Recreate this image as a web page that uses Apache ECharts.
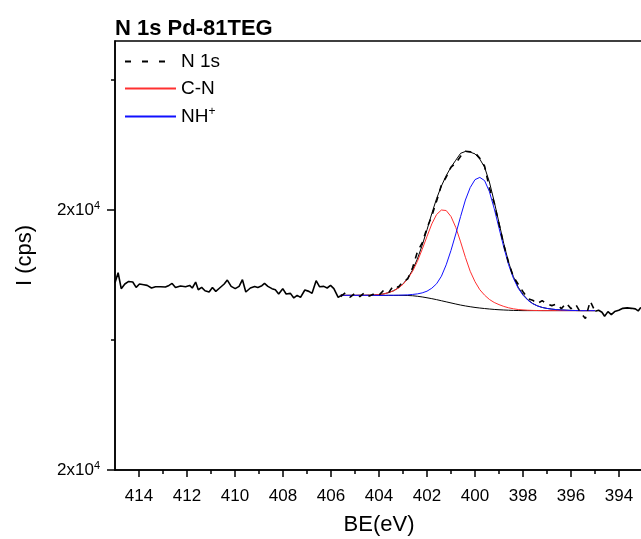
<!DOCTYPE html>
<html>
<head>
<meta charset="utf-8">
<title>N 1s Pd-81TEG</title>
<script src="https://cdn.jsdelivr.net/npm/echarts@6/dist/echarts.min.js"></script>
<style>
  html, body { margin: 0; padding: 0; background: #fff; }
  #chart { width: 641px; height: 539px; }
</style>
</head>
<body>
<div id="chart"></div>
<script>
// measured spectrum outside the fit window (drawn solid)
const beRawLeft = [415.00, 414.87, 414.74, 414.59, 414.43, 414.26, 414.12, 413.98, 413.80, 413.66,
  413.48, 413.31, 413.10, 412.90, 412.75, 412.62, 412.48, 412.27, 412.06, 411.89,
  411.78, 411.64, 411.53, 411.39, 411.25, 411.08, 410.94, 410.80, 410.64, 410.45,
  410.32, 410.16, 409.99, 409.83, 409.69, 409.55, 409.36, 409.18, 409.05, 408.88,
  408.77, 408.63, 408.46, 408.32, 408.18, 408.01, 407.87, 407.69, 407.55, 407.41,
  407.27, 407.09, 406.92, 406.79, 406.62, 406.48, 406.30, 406.16, 406.02, 405.88,
  405.70, 405.53];
const iRawLeft = [18602, 18793, 18487, 18577, 18626, 18615, 18511, 18577, 18563, 18550,
  18500, 18525, 18525, 18519, 18550, 18588, 18511, 18538, 18525, 18550,
  18500, 18615, 18467, 18511, 18448, 18423, 18511, 18435, 18500, 18577,
  18653, 18531, 18487, 18531, 18659, 18423, 18500, 18531, 18511, 18544,
  18588, 18531, 18487, 18467, 18385, 18487, 18385, 18397, 18309, 18358,
  18320, 18462, 18435, 18397, 18640, 18525, 18531, 18500, 18550, 18487,
  18320, 18372];
const beRawRight = [394.99, 394.85, 394.71, 394.60, 394.46, 394.32, 394.18, 394.01, 393.84, 393.66,
  393.48, 393.32, 393.20, 393.11, 393.00];
const iRawRight = [18052, 18071, 18033, 17956, 18046, 17989, 18046, 18071, 18109, 18117,
  18109, 18098, 18059, 18117, 18128];

// fit window
const beFit = [405.6, 405.4, 405.2, 405.0, 404.8, 404.6, 404.4, 404.2, 404.0, 403.8,
  403.6, 403.4, 403.2, 403.0, 402.8, 402.6, 402.4, 402.2, 402.0, 401.8,
  401.6, 401.4, 401.2, 401.0, 400.8, 400.6, 400.4, 400.2, 400.0, 399.8,
  399.6, 399.4, 399.2, 399.0, 398.8, 398.6, 398.4, 398.2, 398.0, 397.8,
  397.6, 397.4, 397.2, 397.0, 396.8, 396.6, 396.4, 396.2, 396.0, 395.8,
  395.6, 395.4, 395.2, 395.0];
const iN1s = [18333, 18410, 18324, 18400, 18333, 18410, 18343, 18391, 18362, 18458,
  18410, 18544, 18515, 18621, 18678, 18889, 19195, 19368, 19655, 19885,
  20172, 20479, 20632, 20824, 20900, 21034, 21130, 21121, 21102, 20996,
  20843, 20421, 20134, 19732, 19329, 18985, 18716, 18573, 18429, 18295,
  18266, 18199, 18257, 18190, 18161, 18190, 18103, 18209, 18103, 18180,
  18027, 17912, 18247, 18056];
const iBackground = [18358, 18358, 18358, 18358, 18358, 18358, 18358, 18358, 18358, 18358,
  18358, 18358, 18358, 18358, 18356, 18351, 18341, 18328, 18312, 18295,
  18276, 18255, 18234, 18213, 18192, 18172, 18155, 18140, 18126, 18115,
  18105, 18096, 18088, 18082, 18077, 18073, 18069, 18067, 18065, 18065,
  18065, 18065, 18065, 18065, 18065, 18065, 18065, 18065, 18065, 18065,
  18065, 18065, 18065, 18065];
const iCN = [18358, 18358, 18358, 18358, 18360, 18360, 18362, 18366, 18374, 18387,
  18410, 18444, 18496, 18571, 18678, 18822, 19013, 19243, 19492, 19732,
  19914, 20000, 19990, 19875, 19665, 19387, 19090, 18822, 18621, 18467,
  18362, 18280, 18222, 18180, 18146, 18119, 18100, 18086, 18079, 18073,
  18069, 18067, 18065, 18065, 18065, 18065, 18065, 18065, 18065, 18065,
  18065, 18065, 18065, 18065];
const iNH = [18358, 18358, 18358, 18358, 18358, 18358, 18358, 18358, 18358, 18358,
  18360, 18360, 18362, 18364, 18368, 18376, 18387, 18406, 18439, 18496,
  18582, 18726, 18946, 19224, 19540, 19875, 20192, 20431, 20584, 20627,
  20565, 20354, 20029, 19655, 19282, 18946, 18688, 18496, 18362, 18266,
  18199, 18155, 18126, 18107, 18094, 18084, 18077, 18073, 18069, 18067,
  18065, 18065, 18065, 18065];
const iEnvelope = [18358, 18358, 18358, 18358, 18360, 18360, 18362, 18366, 18374, 18387,
  18412, 18446, 18500, 18577, 18690, 18847, 19059, 19322, 19619, 19933,
  20220, 20460, 20661, 20824, 20958, 21090, 21126, 21113, 21079, 20979,
  20822, 20538, 20163, 19753, 19351, 18992, 18718, 18515, 18376, 18274,
  18203, 18157, 18126, 18107, 18094, 18084, 18077, 18073, 18069, 18067,
  18065, 18065, 18065, 18065];

// ticks
const xTickValues = [394, 396, 398, 400, 402, 404, 406, 408, 410, 412, 414];
const xMinorTicks = [395, 397, 399, 401, 403, 405, 407, 409, 411, 413];
const yTickValues = [15000, 20000];
const yMinorTicks = [17500, 22500];

const font = 'Arial, "Liberation Sans", sans-serif';
const pair = (xs, ys) => xs.map((x, i) => [x, ys[i]]);

const chart = echarts.init(document.getElementById("chart"));

const solid = (name, xs, ys, color, width) => ({
  name,
  type: "line",
  data: pair(xs, ys),
  symbol: "none",
  lineStyle: { color, width },
  itemStyle: { color },
});

chart.setOption({
  animation: false,
  backgroundColor: "#fff",
  title: {
    text: "N 1s Pd-81TEG",
    left: 115,
    top: 18,
    padding: 0,
    textStyle: { fontFamily: font, fontSize: 22, fontWeight: "bold", color: "#000" },
  },
  legend: {
    data: [
      { name: "N 1s", lineStyle: { type: [6, 11] } },
      { name: "C-N" },
      { name: "NH+" },
    ],
    orient: "vertical",
    left: 124,
    top: 52,
    padding: 0,
    itemGap: 8,
    itemWidth: 51,
    itemHeight: 14,
    itemStyle: { opacity: 0 },
    formatter: name => (name === "NH+" ? "{m|NH}{e|+}" : "{m|" + name + "}"),
    textStyle: {
      fontFamily: font,
      fontSize: 19,
      color: "#000",
      rich: {
        m: { fontFamily: font, fontSize: 19, color: "#000" },
        e: { fontFamily: font, fontSize: 12, color: "#000", padding: [0, 0, 9, 0] },
      },
    },
  },
  grid: {
    left: 115,
    right: -2,
    top: 41,
    bottom: 69,
    show: true,
    borderColor: "#000",
    borderWidth: 1.5,
    outerBoundsMode: "none",
  },
  xAxis: [
    {
      type: "value",
      inverse: true,
      min: 393,
      max: 415,
      name: "BE(eV)",
      nameLocation: "middle",
      nameGap: 44,
      nameTextStyle: { fontFamily: font, fontSize: 22, color: "#000" },
      axisLine: { lineStyle: { color: "#000", width: 1.5 } },
      axisTick: { customValues: xTickValues, length: 7, lineStyle: { color: "#000", width: 1.5 } },
      axisLabel: { customValues: xTickValues, margin: 18, fontFamily: font, fontSize: 17, color: "#000" },
      splitLine: { show: false },
    },
    {
      type: "value",
      inverse: true,
      min: 393,
      max: 415,
      position: "bottom",
      axisLine: { show: false },
      axisTick: { customValues: xMinorTicks, length: 4, lineStyle: { color: "#000", width: 1.5 } },
      axisLabel: { show: false },
      splitLine: { show: false },
    },
  ],
  yAxis: [
    {
      type: "value",
      min: 15000,
      max: 23250,
      name: "I (cps)",
      nameLocation: "middle",
      nameGap: 79,
      nameTextStyle: { fontFamily: font, fontSize: 22, color: "#000" },
      axisLine: { show: true, lineStyle: { color: "#000", width: 1.5 } },
      axisTick: { show: true, customValues: yTickValues, length: 8, lineStyle: { color: "#000", width: 1.5 } },
      axisLabel: {
        customValues: yTickValues,
        margin: 15,
        formatter: () => "{m|2x10}{e|4}",
        rich: {
          m: { fontFamily: font, fontSize: 17, color: "#000" },
          e: { fontFamily: font, fontSize: 11, color: "#000", padding: [0, 0, 8, 0] },
        },
      },
      splitLine: { show: false },
    },
    {
      type: "value",
      min: 15000,
      max: 23250,
      position: "left",
      axisLine: { show: false },
      axisTick: { show: true, customValues: yMinorTicks, length: 4, lineStyle: { color: "#000", width: 1.5 } },
      axisLabel: { show: false },
      splitLine: { show: false },
    },
  ],
  series: [
    solid("raw", beRawLeft, iRawLeft, "#000", 1.6),
    solid("raw", beRawRight, iRawRight, "#000", 1.6),
    solid("background", beFit, iBackground, "#000", 1),
    solid("envelope", beFit, iEnvelope, "#000", 1),
    solid("C-N", beFit, iCN, "#ff3030", 1),
    solid("NH+", beFit, iNH, "#1010ff", 1),
    {
      name: "N 1s",
      type: "line",
      data: pair(beFit, iN1s),
      symbol: "none",
      lineStyle: { color: "#000", width: 1.6, type: [6, 6] },
      itemStyle: { color: "#000" },
    },
  ],
});
</script>
</body>
</html>
